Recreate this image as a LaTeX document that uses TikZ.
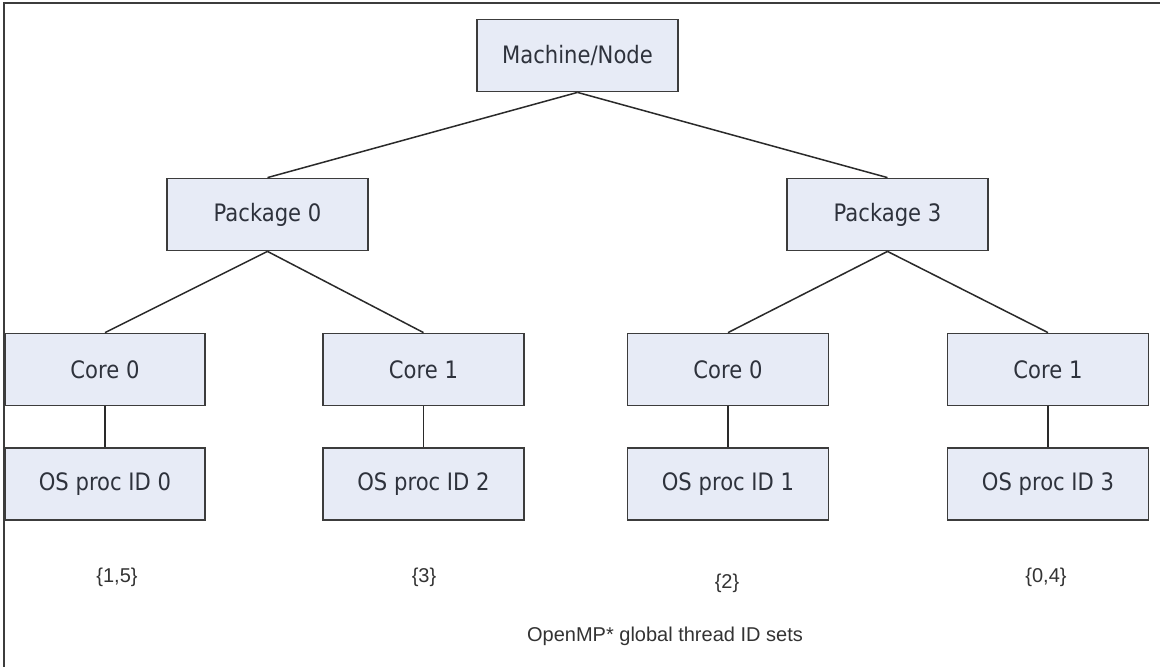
\documentclass[tikz,border=0pt]{standalone}
\usepackage{fontspec}
\newfontfamily\boxfont[FakeStretch=0.88]{DejaVu Sans}
\newfontfamily\lblfont{Liberation Sans}
\definecolor{boxfill}{HTML}{E7EBF6}
\definecolor{boxline}{HTML}{3C3C3C}
\definecolor{boxtext}{HTML}{2E323C}
\definecolor{edgecol}{HTML}{2A2A2A}
\definecolor{lbltext}{HTML}{333333}
\begin{document}
\begin{tikzpicture}[x=1pt,y=-1pt,
  tbox/.style={draw=boxline, line width=1.8pt, fill=boxfill, minimum width=201pt, minimum height=72pt, inner sep=0pt,
    font=\boxfont\fontsize{24}{28}\selectfont, text=boxtext},
  edge/.style={draw=edgecol, line width=1.5pt},
  lbl/.style={font=\lblfont\fontsize{20}{24}\selectfont, text=lbltext, inner sep=0pt}]
\useasboundingbox (0,0) rectangle (1160,667);
\fill[white] (0,0) rectangle (1160,667);
\draw[draw=boxline, line width=2pt] (4,667) -- (4,3) -- (1160,3);

\node[tbox] (machine) at (577.5,55.5) {Machine/Node};
\node[tbox] (pkg0) at (267.5,214.5) {Package 0};
\node[tbox] (pkg3) at (887.5,214.5) {Package 3};

\node[tbox, minimum width=200pt] (c00) at (105,369.5) {Core 0};
\node[tbox] (c01) at (423.5,369.5) {Core 1};
\node[tbox] (c30) at (728,369.5) {Core 0};
\node[tbox] (c31) at (1048,369.5) {Core 1};

\node[tbox, minimum width=200pt] (os0) at (105,484) {OS proc ID 0};
\node[tbox] (os2) at (423.5,484) {OS proc ID 2};
\node[tbox] (os1) at (728,484) {OS proc ID 1};
\node[tbox] (os3) at (1048,484) {OS proc ID 3};

\draw[edge] (machine.south) -- (pkg0.north);
\draw[edge] (machine.south) -- (pkg3.north);
\draw[edge] (pkg0.south) -- (c00.north);
\draw[edge] (pkg0.south) -- (c01.north);
\draw[edge] (pkg3.south) -- (c30.north);
\draw[edge] (pkg3.south) -- (c31.north);
\draw[edge] (c00.south) -- (os0.north);
\draw[edge] (c01.south) -- (os2.north);
\draw[edge] (c30.south) -- (os1.north);
\draw[edge] (c31.south) -- (os3.north);

\node[lbl] (s0) at (117,577) {\{1,5\}};
\node[lbl] (s1) at (424,577) {\{3\}};
\node[lbl] (s2) at (727,583) {\{2\}};
\node[lbl] (s3) at (1046,577) {\{0,4\}};
\node[lbl] (title) at (665,636) {OpenMP* global thread ID sets};
\end{tikzpicture}
\end{document}
